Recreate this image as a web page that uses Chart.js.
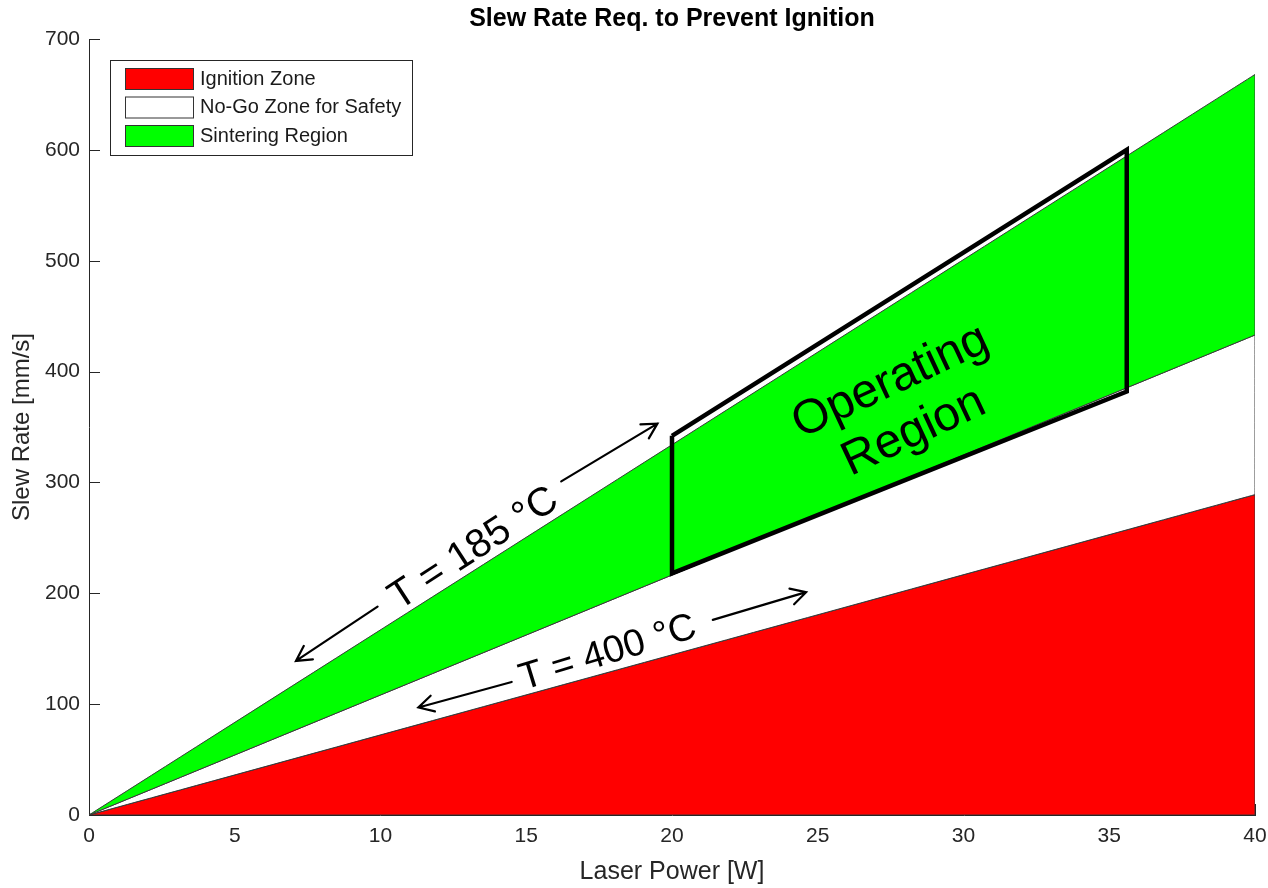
<!DOCTYPE html>
<html lang="en">
<head>
<meta charset="UTF-8">
<title>Slew Rate Req. to Prevent Ignition</title>
<script src="https://cdn.jsdelivr.net/npm/chart.js"></script>
<style>
    body { margin: 0; background: #fff; }
    .wrap { width: 1268px; height: 888px; }
</style>
</head>
<body>
<div class="wrap"><canvas id="chart"></canvas></div>
<script>
    // Data (slew rate boundaries are straight lines through 0)
    const laserPower = [0, 40];
    const ignitionRate = [0, 289];   // T = 400 °C
    const safetyRate = [0, 433];
    const sinterRate = [0, 668];     // T = 185 °C
    const legendLabels = ['Ignition Zone', 'No-Go Zone for Safety', 'Sintering Region'];

    // Operating region outline
    const opPower = [20, 35.6, 35.6, 20, 20];
    const opRate = [342, 600, 382, 218, 342];

    const FONT = "Arial, 'Liberation Sans', Helvetica, sans-serif";
    const AX = '#262626';

    // band polygon between two boundary lines
    function band(lower, upper) {
        return [
            { x: laserPower[0], y: lower[0] },
            { x: laserPower[1], y: upper[1] },
            { x: laserPower[1], y: lower[1] },
            { x: laserPower[0], y: lower[0] }
        ];
    }
    const zeros = laserPower.map(() => 0);

    // annotations, in data coordinates
    const arrows = [
        { from: [9.9, 188], to: [7.1, 139] },
        { from: [16.2, 301], to: [19.5, 353] },
        { from: [14.5, 120], to: [11.3, 97] },
        { from: [21.4, 176], to: [24.6, 201] }
    ];
    const labels = [
        { text: ['T = 185 °C'], at: [13.2, 240], angle: -33, size: 40 },
        { text: ['T = 400 °C'], at: [17.8, 146], angle: -17, size: 38 },
        { text: ['Operating', 'Region'], at: [27.9, 368], angle: -25, size: 48 }
    ];

    const extras = {
        id: 'extras',
        beforeDatasetsDraw(chart) {
            // inward tick marks (MATLAB style), under the patches
            const { ctx, chartArea: a, scales: { x, y } } = chart;
            ctx.save();
            ctx.strokeStyle = AX;
            ctx.lineWidth = 1;
            ctx.beginPath();
            x.ticks.forEach(t => {
                const px = Math.round(x.getPixelForValue(t.value)) + 0.5;
                ctx.moveTo(px, a.bottom);
                ctx.lineTo(px, a.bottom - 11);
            });
            y.ticks.forEach(t => {
                const py = Math.round(y.getPixelForValue(t.value)) + 0.5;
                ctx.moveTo(a.left, py);
                ctx.lineTo(a.left + 11, py);
            });
            ctx.stroke();
            ctx.restore();
        },
        afterDatasetsDraw(chart) {
            const { ctx, chartArea: a, scales: { x, y } } = chart;
            ctx.save();

            // arrows
            ctx.strokeStyle = '#000';
            ctx.lineWidth = 2.2;
            ctx.lineCap = 'round';
            arrows.forEach(ar => {
                const x0 = x.getPixelForValue(ar.from[0]), y0 = y.getPixelForValue(ar.from[1]);
                const x1 = x.getPixelForValue(ar.to[0]), y1 = y.getPixelForValue(ar.to[1]);
                const ang = Math.atan2(y1 - y0, x1 - x0);
                const hl = 17, hw = 0.5;
                ctx.beginPath();
                ctx.moveTo(x0, y0);
                ctx.lineTo(x1, y1);
                ctx.moveTo(x1 - hl * Math.cos(ang - hw), y1 - hl * Math.sin(ang - hw));
                ctx.lineTo(x1, y1);
                ctx.lineTo(x1 - hl * Math.cos(ang + hw), y1 - hl * Math.sin(ang + hw));
                ctx.stroke();
            });

            // rotated text labels
            ctx.fillStyle = '#000';
            ctx.textAlign = 'center';
            ctx.textBaseline = 'middle';
            labels.forEach(l => {
                ctx.save();
                ctx.translate(x.getPixelForValue(l.at[0]), y.getPixelForValue(l.at[1]));
                ctx.rotate(l.angle * Math.PI / 180);
                ctx.font = l.size + 'px ' + FONT;
                const lh = l.size * 1.15;
                l.text.forEach((s, i) => {
                    ctx.fillText(s, 0, (i - (l.text.length - 1) / 2) * lh);
                });
                ctx.restore();
            });

            // legend box
            const lx = a.left + 21, ly = a.top + 21;
            ctx.fillStyle = '#fff';
            ctx.fillRect(lx, ly, 302, 95);
            ctx.strokeStyle = AX;
            ctx.lineWidth = 1;
            ctx.strokeRect(lx + 0.5, ly + 0.5, 302, 95);
            ctx.font = '20px ' + FONT;
            ctx.textAlign = 'left';
            ctx.textBaseline = 'middle';
            legendLabels.forEach((lab, i) => {
                const ds = chart.data.datasets[i];
                const sy = ly + 8 + i * 28.5;
                ctx.fillStyle = ds.backgroundColor;
                ctx.fillRect(lx + 15, sy, 68, 21);
                ctx.strokeStyle = '#333';
                ctx.strokeRect(lx + 15.5, sy + 0.5, 68, 21);
                ctx.fillStyle = '#1a1a1a';
                ctx.fillText(lab, lx + 90, sy + 11);
            });

            // title
            ctx.font = 'bold 25px ' + FONT;
            ctx.textAlign = 'center';
            ctx.fillStyle = '#000';
            ctx.fillText('Slew Rate Req. to Prevent Ignition', (a.left + a.right) / 2, 19);
            ctx.restore();
        }
    };

    // tiny tension keeps Chart.js off its fast path, which assumes x is increasing
    const patch = (label, lower, upper, color, order) => ({
        label,
        data: band(lower, upper),
        backgroundColor: color,
        borderColor: '#3a3a3a',
        borderWidth: 1,
        fill: 'shape',
        pointRadius: 0,
        tension: 1e-6,
        order
    });

    new Chart(document.getElementById('chart'), {
        type: 'line',
        data: {
            datasets: [
                patch(legendLabels[0], zeros, ignitionRate, '#ff0000', 3),
                patch(legendLabels[1], ignitionRate, safetyRate, '#ffffff', 2),
                patch(legendLabels[2], safetyRate, sinterRate, '#00ff00', 1),
                {
                    label: 'Operating Region',
                    data: opPower.map((p, i) => ({ x: p, y: opRate[i] })),
                    borderColor: '#000',
                    borderWidth: 4.5,
                    borderJoinStyle: 'miter',
                    fill: false,
                    pointRadius: 0,
                    tension: 1e-6,
                    order: 0
                }
            ]
        },
        options: {
            responsive: true,
            maintainAspectRatio: false,
            animation: false,
            devicePixelRatio: 1,
            layout: { padding: { top: 39, right: 13, left: 0, bottom: 0 } },
            plugins: {
                legend: { display: false },
                title: { display: false },
                tooltip: { enabled: false }
            },
            scales: {
                x: {
                    type: 'linear',
                    min: 0, max: 40,
                    ticks: { stepSize: 5, color: AX, font: { size: 21, family: FONT }, padding: 9, maxRotation: 0 },
                    grid: { display: false, drawTicks: false },
                    border: { display: true, color: AX, width: 1 },
                    title: { display: true, text: 'Laser Power [W]', color: AX, font: { size: 25, family: FONT }, padding: { top: 0, bottom: 1 } },
                    afterFit: s => { s.height = 73; s.paddingLeft = 0; s.paddingRight = 0; }
                },
                y: {
                    type: 'linear',
                    min: 0, max: 700,
                    ticks: { stepSize: 100, color: AX, font: { size: 21, family: FONT }, padding: 9 },
                    grid: { display: false, drawTicks: false },
                    border: { display: true, color: AX, width: 1 },
                    title: { display: true, text: 'Slew Rate [mm/s]', color: AX, font: { size: 24, family: FONT }, padding: { top: 8, bottom: 0 } },
                    afterFit: s => { s.width = 89; }
                }
            }
        },
        plugins: [extras]
    });
</script>
</body>
</html>
